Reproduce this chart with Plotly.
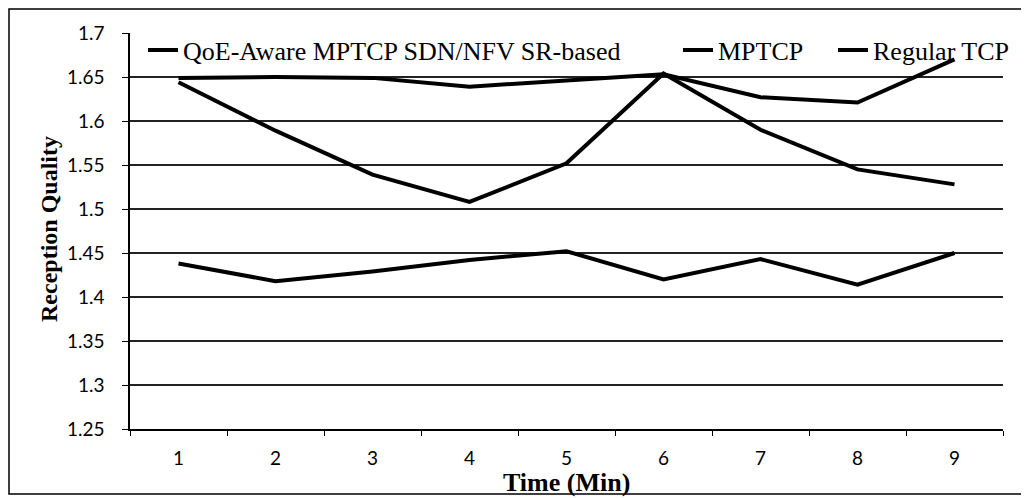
import plotly.graph_objects as go

# data
minutes = ['1', '2', '3', '4', '5', '6', '7', '8', '9']
qoe_aware = [1.649, 1.650, 1.649, 1.639, 1.646, 1.653, 1.627, 1.621, 1.670]
mptcp = [1.644, 1.589, 1.539, 1.508, 1.552, 1.654, 1.590, 1.545, 1.528]
regular_tcp = [1.438, 1.418, 1.429, 1.442, 1.452, 1.420, 1.443, 1.414, 1.450]
series_names = ['QoE-Aware MPTCP SDN/NFV SR-based', 'MPTCP', 'Regular TCP']
y_ticks = [1.25, 1.3, 1.35, 1.4, 1.45, 1.5, 1.55, 1.6, 1.65, 1.7]
y_ticktext = ['1.25', '1.3', '1.35', '1.4', '1.45', '1.5', '1.55', '1.6', '1.65', '1.7']

# the page body adds an 8px offset, so the figure is drawn 8px smaller
OFF = 8
W, H = 1029 - OFF, 498 - OFF
ml, mr, mt, mb = 130 - OFF, 26, 33 - OFF, 69
pw, ph = W - ml - mr, H - mt - mb

serif = 'Liberation Serif, Times New Roman, serif'
sans = 'Lato, Calibri, sans-serif'

# screen pixel -> paper helpers (layout only)
def px(x):
    return (x - OFF - ml) / pw

def py(y):
    return (H - mb - (y - OFF)) / ph

fig = go.Figure()
for vals, name, lg in zip([qoe_aware, mptcp, regular_tcp], series_names,
                          ['legend', 'legend2', 'legend3']):
    fig.add_trace(go.Scatter(x=minutes, y=vals, mode='lines', name=name,
                             line=dict(color='black', width=4), legend=lg,
                             showlegend=True))

def leg(x, y):
    return dict(x=px(x), y=py(y), xanchor='left', yanchor='middle', visible=True,
                bgcolor='rgba(0,0,0,0)', borderwidth=0,
                font=dict(family=serif, size=26, color='black'))

fig.update_layout(
    width=W, height=H, showlegend=True,
    margin=dict(l=ml, r=mr, t=mt, b=mb, autoexpand=False),
    paper_bgcolor='white', plot_bgcolor='white',
    legend=leg(143, 50), legend2=leg(678, 50), legend3=leg(833, 50),
    xaxis=dict(type='category', range=[-0.5, 8.5], tickson='boundaries',
               ticks='outside', ticklen=5,
               tickcolor='black', showline=True, linecolor='black', linewidth=1.5,
               showgrid=False, tickfont=dict(family=sans, size=19, color='black'),
               ticklabelstandoff=11),
    yaxis=dict(range=[1.25, 1.7], tickvals=y_ticks, ticktext=y_ticktext,
               ticks='outside', ticklen=6, tickcolor='black',
               showline=True, linecolor='black', linewidth=1.5,
               showgrid=True, gridcolor='#222', gridwidth=1.5, zeroline=False,
               tickfont=dict(family=sans, size=19, color='black'),
               ticklabelstandoff=14),
    annotations=[
        dict(text='<b>Time (Min)</b>', xref='paper', yref='paper',
             x=0.5, y=py(483), showarrow=False, xanchor='center', yanchor='middle',
             font=dict(family=serif, size=26, color='black')),
        dict(text='<b>Reception Quality</b>', xref='paper', yref='paper',
             x=px(49), y=py(229), showarrow=False, textangle=-90,
             xanchor='center', yanchor='middle',
             font=dict(family=serif, size=24, color='black')),
    ],
)

# outer frame around the whole chart
fig.add_shape(type='rect', xref='paper', yref='paper',
              x0=px(9), x1=px(1022), y0=py(494), y1=py(9),
              line=dict(color='black', width=1.5), layer='below')

fig.write_html('out.html')
